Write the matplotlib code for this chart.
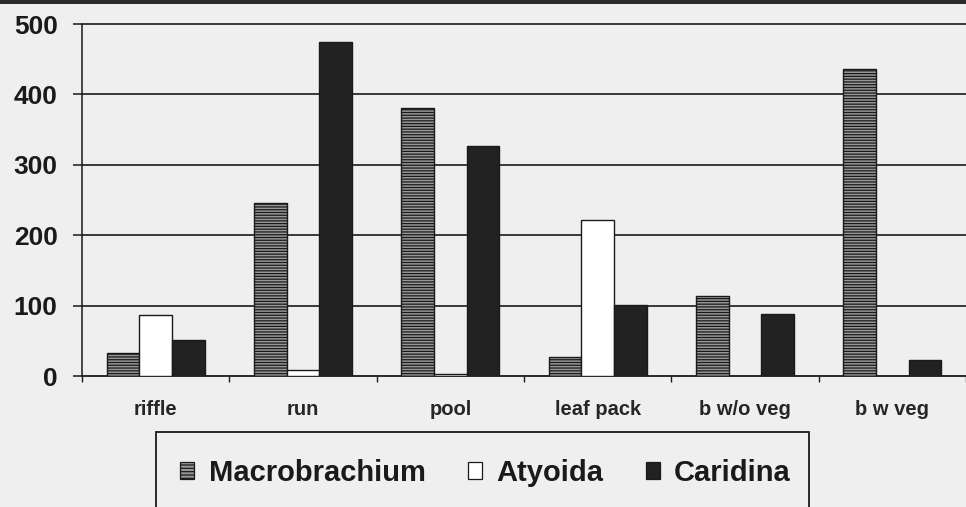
import matplotlib
matplotlib.use("Agg")
import matplotlib.pyplot as plt
from matplotlib.patches import Patch, Rectangle
import numpy as np

plt.rcParams['font.family'] = ['Liberation Sans', 'DejaVu Sans']
plt.rcParams['hatch.linewidth'] = 0.9

habitats = ["riffle", "run", "pool", "leaf pack", "b w/o veg", "b w veg"]
macrobrachium = [33, 246, 381, 27, 113, 436]
atyoida = [86, 8, 3, 221, 0, 0]
caridina = [51, 474, 326, 101, 88, 23]
y_ticks = [0, 100, 200, 300, 400, 500]

W, H = 966, 507
bg = "#efefef"
fig = plt.figure(figsize=(W / 100, H / 100), dpi=100, facecolor=bg)

# plot area: x from -0.5 at px 82, one category = 149.2 px; y 0 at px 376, 500 at px 24
cat_px = 149.2
left_px, base_px, top500_px = 82, 376, 24
ymax = 505
px_per_unit = (base_px - top500_px) / 500
top_px = base_px - ymax * px_per_unit
xmax = -0.5 + (W - left_px) / cat_px
ax = fig.add_axes([left_px / W, (H - base_px) / H, 1 - left_px / W, (base_px - top_px) / H])
ax.set_facecolor(bg)

x = np.arange(len(habitats))
bw = 0.222
ax.bar(x - bw, macrobrachium, bw, facecolor="#979797", edgecolor="#1a1a1a",
       hatch="------", linewidth=1.0, zorder=3)
ax.bar(x, atyoida, bw, facecolor="white", edgecolor="#1a1a1a", linewidth=1.0, zorder=3)
ax.bar(x + bw, caridina, bw, facecolor="#222222", edgecolor="#1a1a1a", linewidth=1.0, zorder=3)

ax.set_xlim(-0.5, xmax)
ax.set_ylim(0, ymax)

# horizontal gridlines
for t in y_ticks[1:]:
    ax.axhline(t, color="#1a1a1a", linewidth=1.2, zorder=1)

for s in ("top", "right"):
    ax.spines[s].set_visible(False)
ax.spines["left"].set_bounds(0, 500)
ax.spines["left"].set_linewidth(1.1)
ax.spines["left"].set_color("#1a1a1a")
ax.spines["bottom"].set_linewidth(1.3)
ax.spines["bottom"].set_color("#1a1a1a")

ax.set_yticks(y_ticks)
ax.set_yticklabels([str(t) for t in y_ticks], fontsize=19, fontweight="bold", color="#1a1a1a")
ax.tick_params(axis="y", direction="out", length=6.5, width=1.1, color="#1a1a1a", pad=11)

# category boundaries carry the tick marks, centres carry the labels
ax.set_xticks(np.arange(-0.5, len(habitats), 1.0))
ax.set_xticklabels([])
ax.tick_params(axis="x", which="major", direction="out", length=4, width=1.0, color="#1a1a1a")
ax.set_xticks(x, minor=True)
ax.set_xticklabels(habitats, minor=True, fontsize=14.5, fontweight="bold", color="#262626")
ax.tick_params(axis="x", which="minor", length=0, pad=17.5)

# dark edge along the top of the sheet
fig.patches.append(Rectangle((0, 1 - 3.5 / H), 1, 3.5 / H, transform=fig.transFigure,
                             facecolor="#2a2a2a", edgecolor="none", zorder=0))

# legend box running off the bottom edge
lx0, lx1, ly_top = 156, 809, 432
fig.patches.append(Rectangle((lx0 / W, -0.05), (lx1 - lx0) / W, (H - ly_top) / H + 0.05,
                             transform=fig.transFigure, facecolor=bg,
                             edgecolor="#1a1a1a", linewidth=1.3, zorder=1))

handles = [
    Patch(facecolor="#979797", edgecolor="#1a1a1a", hatch="-----", linewidth=0.9, label="Macrobrachium"),
    Patch(facecolor="white", edgecolor="#1a1a1a", linewidth=0.9, label="Atyoida"),
    Patch(facecolor="#222222", edgecolor="#1a1a1a", linewidth=0.9, label="Caridina"),
]
leg = fig.legend(handles=handles, loc="center left", bbox_to_anchor=(180 / W, (H - 473) / H),
                 ncol=3, frameon=False, borderpad=0, borderaxespad=0,
                 handlelength=0.48, handleheight=0.55,
                 handletextpad=0.5, columnspacing=1.45,
                 prop={"size": 21, "weight": "bold"})
for t in leg.get_texts():
    t.set_color("#1a1a1a")

fig.savefig("out.png", dpi=100, facecolor=bg)
